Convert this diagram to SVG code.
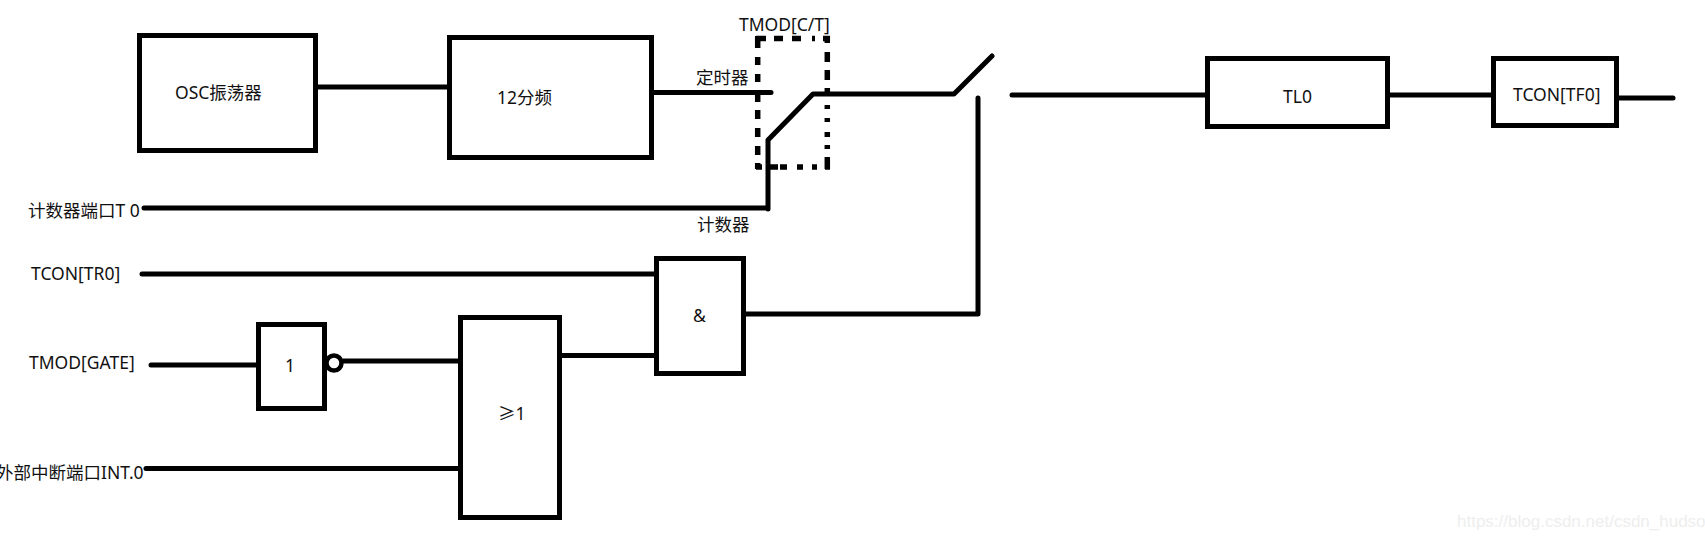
<svg xmlns="http://www.w3.org/2000/svg" width="1705" height="539" viewBox="0 0 1705 539">
<style>
.b{fill:#fff;stroke:#000;stroke-width:5}
.c{fill:none;stroke:#000;stroke-width:5;stroke-linejoin:round}
.r{stroke-linecap:round}
.d{fill:none;stroke:#000;stroke-width:5.5}
text{font-family:"Noto Sans","Noto Sans CJK SC",sans-serif;font-size:17.5px;fill:#111}
.w{font-family:"Liberation Sans",sans-serif;font-size:17px;fill:#eee}
</style>
<rect width="1705" height="539" fill="#fff"/>
<g id="connectors">
<path class="c" d="M316 87H449"/>
<path class="c r" d="M652 92.500H771"/>
<path class="c r" d="M144 208H768M768 209V140L813 94H954L992 56"/>
<path class="c r" d="M978 98V314H745"/>
<path class="c r" d="M1012 95H1208"/>
<path class="c" d="M1390 95H1491"/>
<path class="c r" d="M1618 98H1673"/>
<path class="c r" d="M142 274H656"/>
<path class="c r" d="M151 365H257"/>
<path class="c" d="M343 361H460"/>
<path class="c r" d="M146 468.500H460"/>
<path class="c" d="M560 355.500H656"/>
</g>
<g id="selector">
<path class="d" d="M757.700 36V48M757.700 57V65M757.700 74V82M757.700 94V102M757.700 110V119M757.700 128V137M757.700 146V155M757.700 163V169M827.300 36V43M827.300 52V62M827.300 70V80M827.300 88V93M827.300 105V109M827.300 118V122M827.300 132V137M827.300 145V149M827.300 157V169M756 38.500H766M774 38.500H783M792 38.500H801M812 38.500H815M823 38.500H830M756 167H762M770 167H778M780 167H787M797 167H803M812 167H817M825 167H830"/>
<text x="739" y="31">TMOD[C/T]</text>
</g>
<g id="osc"><rect class="b" x="139.500" y="35.500" width="176" height="115"/><text x="175" y="99">OSC振荡器</text></g>
<g id="div12"><rect class="b" x="449.500" y="37.500" width="202" height="120"/><text x="497" y="104">12分频</text></g>
<g id="tl0"><rect class="b" x="1207.500" y="58.500" width="180" height="68"/><path d="M1300 124h6v3h-6z"/><text x="1283" y="103">TL0</text></g>
<g id="tf0"><rect class="b" x="1493.500" y="58.500" width="123" height="67"/><text x="1513" y="101">TCON[TF0]</text></g>
<g id="not"><rect class="b" x="258.500" y="324.500" width="66" height="84"/><text x="285" y="372">1</text><circle cx="334" cy="363" r="7.500" fill="#fff" stroke="#000" stroke-width="4.500"/></g>
<g id="or"><rect class="b" x="460.500" y="317.500" width="99" height="200"/><text x="498" y="420">≥1</text></g>
<g id="and"><rect class="b" x="656.500" y="258.500" width="87" height="115"/><text x="693" y="322">&amp;</text></g>
<g id="labels">
<text x="696" y="84">定时器</text>
<text x="697" y="231">计数器</text>
<text x="28" y="217">计数器端口T 0</text>
<text x="31" y="280">TCON[TR0]</text>
<text x="29" y="369">TMOD[GATE]</text>
<text x="-4" y="479">外部中断端口INT.0</text>
<text class="w" x="1457" y="527">https://blog.csdn.net/csdn_hudson</text>
</g>
</svg>
